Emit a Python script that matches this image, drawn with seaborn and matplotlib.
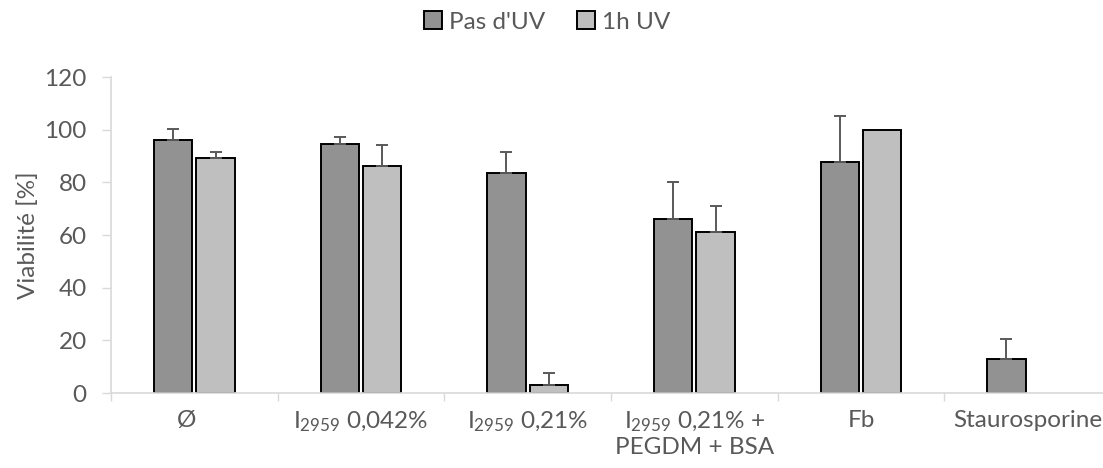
import numpy as np
import pandas as pd
import matplotlib
matplotlib.use("Agg")
import matplotlib.pyplot as plt
from matplotlib.transforms import ScaledTranslation
import seaborn as sns

categories = ["Ø", "I$_{\\mathregular{2959}}$ 0,042%", "I$_{\\mathregular{2959}}$ 0,21%",
              "I$_{\\mathregular{2959}}$ 0,21% +\nPEGDM + BSA", "Fb", "Staurosporine"]
series = ["Pas d'UV", "1h UV"]
pas_uv = [96.0, 94.4, 83.4, 66.0, 87.6, 12.8]
pas_uv_err = [4.4, 2.7, 8.1, 14.3, 17.6, 7.7]
uv_1h = [89.4, 86.1, 3.0, 61.1, 100.0, np.nan]
uv_1h_err = [2.1, 8.0, 4.6, 9.8, 0.0, np.nan]
yticks = [0, 20, 40, 60, 80, 100, 120]

sns.set_theme(style="white")
plt.rcParams["font.family"] = ["Lato", "DejaVu Sans"]
plt.rcParams["mathtext.default"] = "regular"

txt = "#595959"
grid = "#D9D9D9"
dark = "#929292"
light = "#BFBFBF"

df = pd.DataFrame({
    "cat": categories * 2,
    "val": pas_uv + uv_1h,
    "cond": [series[0]] * 6 + [series[1]] * 6,
})
errs = {series[0]: pas_uv_err, series[1]: uv_1h_err}

fig = plt.figure(figsize=(11.03, 4.68), dpi=100)
ax = fig.add_axes([111 / 1103, 1 - 393 / 468, 1000 / 1103, 316 / 468])

sns.barplot(data=df.dropna(), x="cat", y="val", hue="cond", order=categories,
            hue_order=series, palette=[dark, light], width=0.51, gap=0.1,
            edgecolor="black", linewidth=1.4, errorbar=None, ax=ax)

for cont, name in zip(ax.containers, series):
    e = errs[name]
    for bar in cont:
        h = bar.get_height()
        if not np.isfinite(h):
            continue
        xc = bar.get_x() + bar.get_width() / 2
        idx = int(round(xc))
        err = e[idx]
        if not np.isfinite(err) or err <= 0:
            continue
        ax.errorbar([xc], [h], yerr=[[0], [err]], fmt="none", ecolor="#595959",
                    elinewidth=1.4, capsize=4.5, capthick=1.4, zorder=1)

ax.set_ylim(0, 120)
ax.set_xlim(-0.5, 5.5)
ax.set_yticks(yticks)
ax.set_yticklabels([str(v) for v in yticks])
ax.set_xticks(range(len(categories)))
ax.set_xticklabels(categories)
ax.set_xticks(np.arange(-0.5, 6.0, 1.0), minor=True)
ax.tick_params(axis="x", which="major", length=0, pad=12, labelsize=17.5, labelcolor=txt)
ax.tick_params(axis="x", which="minor", length=6, width=1.0, color=grid, direction="out", bottom=True)
ax.tick_params(axis="y", length=6.5, width=1.0, color=grid, pad=11, labelsize=17.5,
               labelcolor=txt, left=True)
ax.set_xlabel("")
ax.set_ylabel("Viabilité [%]", fontsize=17.5, color=txt, labelpad=4)

for s in ["top", "right"]:
    ax.spines[s].set_visible(False)
for s in ["left", "bottom"]:
    ax.spines[s].set_color(grid)
    ax.spines[s].set_linewidth(1.2)

labels = ax.get_xticklabels()
labels[0].set_transform(labels[0].get_transform() + ScaledTranslation(-0.08, 0, fig.dpi_scale_trans))

handles, lbls = ax.get_legend_handles_labels()
ax.legend(handles, lbls, loc="center", bbox_to_anchor=(0.496, 0.953),
          bbox_transform=fig.transFigure, ncol=2, frameon=False, fontsize=17.5,
          labelcolor=txt, handlelength=0.75, handleheight=0.75, handletextpad=0.3,
          columnspacing=1.3)

fig.savefig("out.png", dpi=100)
